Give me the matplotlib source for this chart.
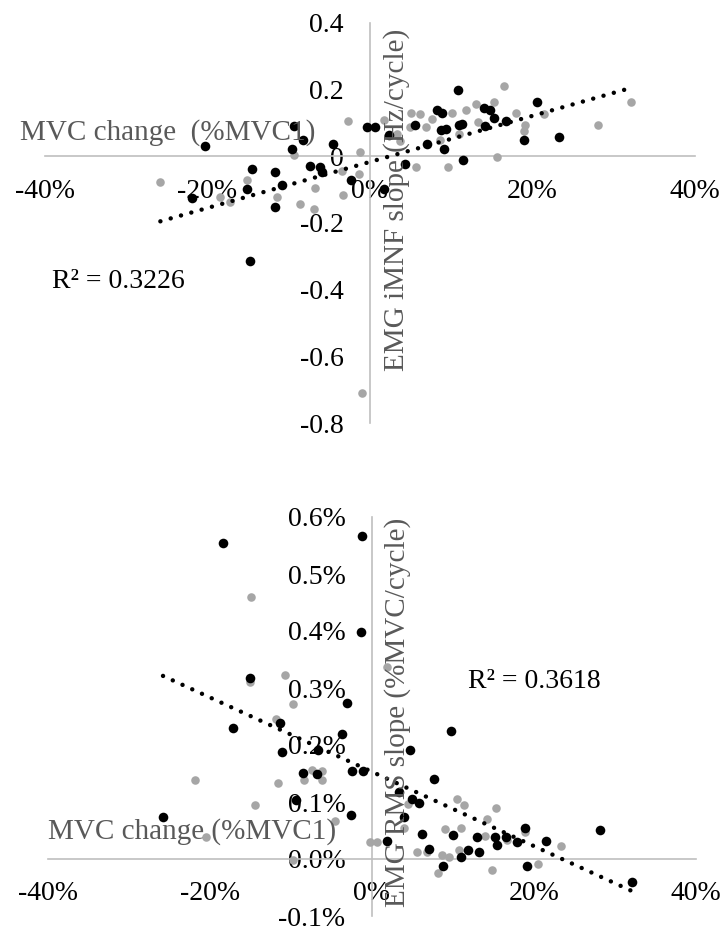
import numpy as np
import matplotlib
matplotlib.use("Agg")
import matplotlib.pyplot as plt
from matplotlib.ticker import FuncFormatter, FixedLocator

plt.rcParams["font.family"] = ["Liberation Serif", "DejaVu Serif"]
plt.rcParams["axes.unicode_minus"] = False

# ---- iMNF slope vs MVC change (x in % of MVC1) ----
imnf_black_x = [-20.3, -9.4, -8.3, -9.6, -4.5, -0.4, 0.6, -14.5, -11.7, -7.4,
                -6.2, -5.9, -15.2, -21.9, -11.7, -10.8, -2.4, -14.8, 1.7,
                10.8, 20.6, 23.3, 19.0, 8.2, 8.9, 14.0, 14.8, 15.2, 16.7,
                14.2, 8.7, 9.3, 10.9, 11.3, 7.0, 9.1, 11.4, 2.3, 4.3, 5.5]
imnf_black_y = [0.030, 0.090, 0.050, 0.022, 0.036, 0.088, 0.088, -0.039, -0.046, -0.029,
                -0.033, -0.047, -0.098, -0.125, -0.152, -0.085, -0.072, -0.315, -0.098,
                0.198, 0.163, 0.057, 0.048, 0.139, 0.129, 0.144, 0.139, 0.115, 0.106,
                0.091, 0.078, 0.083, 0.095, 0.097, 0.038, 0.021, -0.010, 0.063, -0.022, 0.093]
imnf_gray_x = [-25.8, -2.7, -9.4, -1.2, -15.1, -18.5, -17.2, -11.4, -8.6, -6.9,
               -6.8, -3.3, -3.4, -1.4, -1.0,
               1.7, 5.0, 6.2, 7.6, 10.1, 11.8, 13.0, 15.3, 16.5, 18.0,
               21.4, 32.1, 28.1, 19.1, 18.9, 15.6, 5.7, 9.6, 13.3, 6.9,
               4.9, 3.3, 3.7, 8.6, 11.0]
imnf_gray_y = [-0.076, 0.107, 0.004, 0.014, -0.072, -0.121, -0.137, -0.122, -0.142, -0.157,
               -0.096, -0.117, -0.044, -0.052, -0.710,
               0.110, 0.129, 0.127, 0.112, 0.129, 0.139, 0.158, 0.164, 0.212, 0.130,
               0.126, 0.163, 0.093, 0.095, 0.075, -0.003, -0.032, -0.031, 0.103, 0.087,
               0.088, 0.068, 0.047, 0.048, 0.066]
# linear trendline: slope per % and intercept
imnf_trend = [0.00691, -0.0167]
imnf_r2 = "R² = 0.3226"

# ---- RMS slope vs MVC change (both in %) ----
rms_black_x = [-18.4, -1.2, -1.4, -15.1, -3.1, -17.2, -11.4, -3.7, -11.1, -6.7,
               -8.5, -6.8, -2.5, -1.1, -9.4, -2.6, -25.8, 1.8,
               9.7, 4.7, 7.7, 3.3, 4.9, 5.8, 3.9, 6.2, 10.0, 13.0,
               15.2, 16.5, 15.4, 18.9, 17.9, 21.5, 28.2, 7.0, 11.9, 13.2,
               11.0, 8.8, 19.1, 32.1]
rms_black_y = [0.554, 0.567, 0.399, 0.318, 0.273, 0.229, 0.239, 0.219, 0.188, 0.191,
               0.151, 0.150, 0.154, 0.155, 0.104, 0.078, 0.074, 0.031,
               0.225, 0.192, 0.140, 0.118, 0.105, 0.099, 0.074, 0.044, 0.042, 0.039,
               0.039, 0.039, 0.025, 0.055, 0.029, 0.032, 0.051, 0.017, 0.015, 0.012,
               0.004, -0.013, -0.012, -0.040]
rms_gray_x = [-15.0, -10.7, -9.8, -15.1, -11.8, 1.8, -8.4, -7.4, -6.2, -6.2,
              -21.8, -11.6, -14.4, -4.6, -20.5, -0.3, 0.6, -9.7,
              10.5, 11.4, 15.3, 14.2, 4.0, 9.0, 11.0, 14.0, 16.7, 18.9,
              23.3, 5.6, 6.8, 8.6, 9.5, 10.7, 8.1, 14.8, 20.5, 4.5]
rms_gray_y = [0.460, 0.322, 0.272, 0.310, 0.246, 0.337, 0.139, 0.156, 0.154, 0.139,
              0.139, 0.134, 0.094, 0.067, 0.038, 0.030, 0.030, -0.002,
              0.106, 0.095, 0.090, 0.071, 0.054, 0.052, 0.055, 0.040, 0.033, 0.048,
              0.023, 0.013, 0.013, 0.007, 0.004, 0.016, -0.025, -0.019, -0.008, 0.096]
rms_trend = [-0.00652, 0.153]
rms_r2 = "R² = 0.3618"

x_ticks = [-40, -20, 0, 20, 40]
imnf_ticks = [-0.8, -0.6, -0.4, -0.2, 0, 0.2, 0.4]
rms_ticks = [-0.1, 0.0, 0.1, 0.2, 0.3, 0.4, 0.5, 0.6]

x_title = "MVC change  (%MVC1)"
x_title_low = "MVC change (%MVC1)"
imnf_title = "EMG iMNF slope (Hz/cycle)"
rms_title = "EMG RMS slope (%MVC/cycle)"

W, H = 725, 927
fig = plt.figure(figsize=(W / 100, H / 100), dpi=100)

AXIS_GRAY = "#bfbfbf"
TITLE_GRAY = "#595959"
PT_GRAY = "#a6a6a6"
FS = 20
FS_TITLE = 21


def px_box(x0, y0, x1, y1):
    return [x0 / W, 1 - y1 / H, (x1 - x0) / W, (y1 - y0) / H]


def style_axes(ax, yticks, ylim, yfmt):
    ax.set_xlim(-40, 40)
    ax.set_ylim(*ylim)
    for side in ("top", "right"):
        ax.spines[side].set_visible(False)
    ax.spines["left"].set_position(("data", 0))
    ax.spines["bottom"].set_position(("data", 0))
    for side in ("left", "bottom"):
        ax.spines[side].set_color(AXIS_GRAY)
        ax.spines[side].set_linewidth(1.2)
    ax.xaxis.set_major_locator(FixedLocator(x_ticks))
    ax.yaxis.set_major_locator(FixedLocator(yticks))
    ax.xaxis.set_major_formatter(FuncFormatter(lambda v, p: f"{v:.0f}%"))
    ax.yaxis.set_major_formatter(FuncFormatter(yfmt))
    ax.tick_params(axis="both", length=0, labelsize=FS, colors="black")
    ax.tick_params(axis="x", pad=16)
    ax.tick_params(axis="y", pad=19)
    ax.patch.set_visible(False)


def trend(ax, coef, bx, gx):
    xs = np.array(bx + gx)
    xx = np.array([xs.min(), xs.max()])
    ax.plot(xx, np.polyval(coef, xx), color="black", lw=3.2,
            linestyle=(0, (0.01, 2.4)), dash_capstyle="round", zorder=6)


def scatter(ax, bx, by, gx, gy):
    ax.scatter(gx, gy, s=38, color=PT_GRAY, linewidths=0, zorder=4)
    ax.scatter(bx, by, s=48, color="black", linewidths=0, zorder=5)


# top panel
ax1 = fig.add_axes(px_box(45, 23, 695, 423))
style_axes(ax1, imnf_ticks, (-0.8, 0.4),
           lambda v, p: "0" if abs(v) < 1e-9 else f"{v:.1f}")
scatter(ax1, imnf_black_x, imnf_black_y, imnf_gray_x, imnf_gray_y)
trend(ax1, imnf_trend, imnf_black_x, imnf_gray_x)

# bottom panel
ax2 = fig.add_axes(px_box(48, 517, 696, 916))
style_axes(ax2, rms_ticks, (-0.1, 0.6), lambda v, p: f"{v:.1f}%")
scatter(ax2, rms_black_x, rms_black_y, rms_gray_x, rms_gray_y)
trend(ax2, rms_trend, rms_black_x, rms_gray_x)

# axis titles and R² labels
fig.text(20 / W, 1 - 133 / H, x_title, color=TITLE_GRAY, fontsize=FS_TITLE,
         ha="left", va="center", zorder=3)
fig.text(48 / W, 1 - 832 / H, x_title_low, color=TITLE_GRAY, fontsize=FS_TITLE,
         ha="left", va="center", zorder=3)
fig.text(397 / W, 1 - 200 / H, imnf_title, color=TITLE_GRAY, fontsize=FS_TITLE,
         rotation=90, ha="center", va="center", zorder=3)
fig.text(398 / W, 1 - 712 / H, rms_title, color=TITLE_GRAY, fontsize=FS_TITLE,
         rotation=90, ha="center", va="center", zorder=3)
fig.text(52 / W, 1 - 282 / H, imnf_r2, color="black", fontsize=FS,
         ha="left", va="center")
fig.text(468 / W, 1 - 682 / H, rms_r2, color="black", fontsize=FS,
         ha="left", va="center")

fig.savefig("out.png", dpi=100, facecolor="white")
